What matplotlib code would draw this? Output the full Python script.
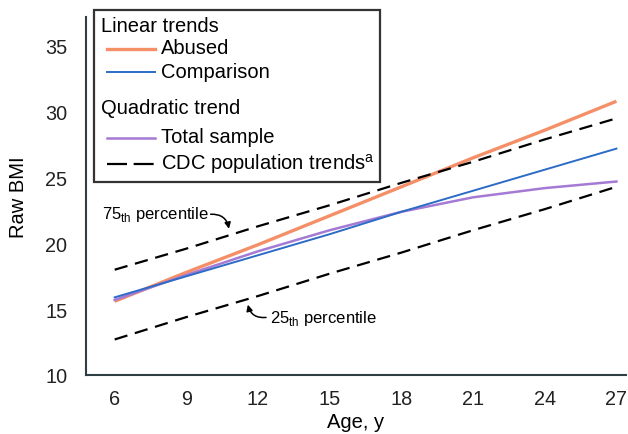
import numpy as np
import matplotlib
matplotlib.use("Agg")
import matplotlib.pyplot as plt
from matplotlib.patches import Rectangle

plt.rcParams['font.family'] = ['Liberation Sans', 'DejaVu Sans']
plt.rcParams['mathtext.fontset'] = 'custom'
plt.rcParams['mathtext.rm'] = 'Liberation Sans'

# --- data ---
alder = [6, 9, 12, 15, 18, 21, 24, 27]
abused = [15.6, 17.8, 19.9, 22.1, 24.3, 26.5, 28.6, 30.8]
comparison = [15.9, 17.5, 19.1, 20.7, 22.4, 24.0, 25.6, 27.2]
total_sample = [15.7, 17.6, 19.4, 21.0, 22.4, 23.5, 24.2, 24.7]
cdc_75 = [18.0, 19.6, 21.3, 22.9, 24.6, 26.2, 27.9, 29.5]
cdc_25 = [12.7, 14.4, 16.0, 17.7, 19.3, 21.0, 22.6, 24.3]
x_ticks = [6, 9, 12, 15, 18, 21, 24, 27]
y_ticks = [10, 15, 20, 25, 30, 35]

orange = '#f48f68'
blue = '#2d6cc6'
purple = '#a57ad4'
akse_farve = '#2f3d45'

W, H = 628, 435
fig = plt.figure(figsize=(W / 100, H / 100), dpi=100)
ax = fig.add_axes([86 / W, 1 - 376 / H, 540 / W, 358 / H])

ax.plot(alder, abused, color=orange, lw=2.4, solid_capstyle='butt')
ax.plot(alder, total_sample, color=purple, lw=1.8)
ax.plot(alder, comparison, color=blue, lw=1.4)
ax.plot(alder, cdc_75, color='black', lw=1.6, dashes=(6, 3.5))
ax.plot(alder, cdc_25, color='black', lw=1.6, dashes=(6, 3.5))

ax.set_xlim(4.8, 27.4)
ax.set_ylim(10, 37.2)
ax.set_xticks(x_ticks)
ax.set_yticks(y_ticks)
ax.tick_params(length=0, labelsize=14.3, colors='#222222')
ax.tick_params(axis='y', pad=13.5)
ax.tick_params(axis='x', pad=10)
for side in ['top', 'right']:
    ax.spines[side].set_visible(False)
for side in ['left', 'bottom']:
    ax.spines[side].set_color(akse_farve)
    ax.spines[side].set_linewidth(1.5)

ax.set_xlabel("Age, y", fontsize=14.5, labelpad=3)
ax.set_ylabel("Raw BMI", fontsize=14.5, labelpad=12)

# --- annotationer ---
ax.text(5.45, 22.3, r"75$_{\mathrm{th}}$ percentile", fontsize=12, va='center', ha='left')
ax.annotate("", xy=(10.8, 20.9), xytext=(9.9, 22.2),
            arrowprops=dict(arrowstyle='-|>', color='black', lw=1.1,
                            connectionstyle='arc3,rad=-0.5', mutation_scale=9))
ax.text(12.5, 14.4, r"25$_{\mathrm{th}}$ percentile", fontsize=12, va='center', ha='left')
ax.annotate("", xy=(11.55, 15.55), xytext=(12.45, 14.4),
            arrowprops=dict(arrowstyle='-|>', color='black', lw=1.1,
                            connectionstyle='arc3,rad=-0.5', mutation_scale=9))

# --- legend tegnet i hånden (pixel -> figur-brøk) ---
def fx(px):
    return px / W

def fy(py):
    return 1 - py / H

fig.add_artist(Rectangle((fx(94), fy(183)), fx(380) - fx(94), fy(11) - fy(183),
                         transform=fig.transFigure, fill=False,
                         edgecolor='#333333', lw=1.6))
fig.text(fx(101), fy(26), "Linear trends", fontsize=14.5, va='center')
fig.text(fx(101), fy(109), "Quadratic trend", fontsize=14.5, va='center')
legend_rows = [(50, "Abused", dict(color=orange, lw=2.4)),
               (73, "Comparison", dict(color=blue, lw=1.4)),
               (139, "Total sample", dict(color=purple, lw=1.8)),
               (165, r"CDC population trends$^{\mathrm{a}}$", dict(color='black', lw=1.6, dashes=(9, 3)))]
for py, tekst, stil in legend_rows:
    fig.add_artist(plt.Line2D([fx(107), fx(155)], [fy(py), fy(py)],
                              transform=fig.transFigure, **stil))
    fig.text(fx(161), fy(py - 1), tekst, fontsize=14.5, va='center')

fig.savefig("out.png", dpi=100)
